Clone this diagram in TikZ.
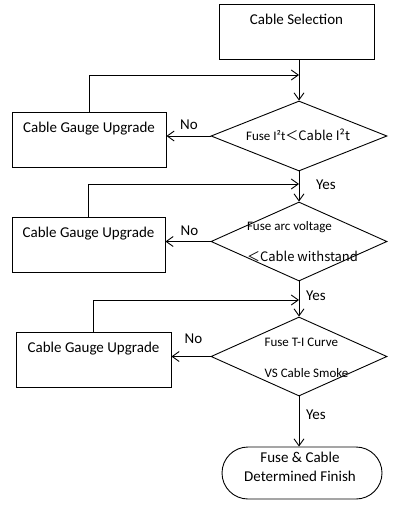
\documentclass[tikz,border=0pt]{standalone}
\usepackage{fontspec}
\setmainfont{Carlito}
\newfontfamily\cjk{Noto Sans CJK SC}
\usetikzlibrary{shapes.geometric, arrows.meta}

\begin{document}
\begin{tikzpicture}[x=1pt, y=-1pt, line width=0.9pt,
  box/.style={draw, rectangle, anchor=north, minimum width=155pt, inner ysep=0pt,
    text height=20pt, text depth=35pt, font=\fontsize{15}{18}\selectfont},
  choice/.style={draw, diamond, inner sep=0pt, minimum width=176pt},
  ending/.style={draw, rectangle, rounded corners=26pt, minimum width=160pt,
    minimum height=52pt, inner sep=0pt},
  say/.style={align=left, font=\fontsize{13}{31}\selectfont},
  tag/.style={font=\fontsize{15}{18}\selectfont},
  flow/.style={-{Straight Barb[length=7pt, width=10pt]}}]
  \useasboundingbox (0,0) rectangle (408,511);

  % 主干：选择 -> 三个判断 -> 结束
  \node[box] (sel) at (296.5,4) {Cable Selection};
  \node[choice, minimum height=70pt] (d1) at (299,136) {};
  \node[choice, minimum height=79pt] (d2) at (299,241.5) {};
  \node[choice, minimum height=79pt] (d3) at (299,356.5) {};
  \node[ending] (fin) at (302,473) {};

  % 判断框里的文字
  \node[say] (s1) at (298,135) {Fuse I²t\cjk{＜}Cable I²t};
  \node[say] (s2) at (302.5,241.5) {Fuse arc voltage\\\cjk{＜}Cable withstand};
  \node[say] (s3) at (306.5,357.5) {Fuse T-I Curve\\VS Cable Smoke};
  \node[align=center, font=\fontsize{15}{19}\selectfont] (sf) at (300,466.5)
    {Fuse \& Cable\\Determined Finish};

  % 左边的升级框
  \node[box, minimum width=154pt] (up1) at (89,112) {Cable Gauge Upgrade};
  \node[box, minimum width=153pt] (up2) at (88.5,217) {Cable Gauge Upgrade};
  \node[box] (up3) at (93.5,332) {Cable Gauge Upgrade};

  % 回到主干的汇合点
  \coordinate (j1) at (299,75);
  \coordinate (j2) at (299,184);
  \coordinate (j3) at (299,300);

  \draw[flow] (sel.south -| d1.north) -- (d1.north);
  \draw[flow] (d1.south) -- (d2.north);
  \draw[flow] (d2.south) -- (d3.north);
  \draw[flow] (d3.south) -- (d3.south |- fin.north);

  \draw[flow] (d1.west) -- (d1.west -| up1.east);
  \draw[flow] (d2.west) -- (d2.west -| up2.east);
  \draw[flow] (d3.west) -- (d3.west -| up3.east);

  \draw[flow] (up1.north) |- (j1);
  \draw[flow] (up2.north) |- (j2);
  \draw[flow] (up3.north) |- (j3);

  \node[tag] (no1) at (189,125) {No};
  \node[tag] (no2) at (189.5,231) {No};
  \node[tag] (no3) at (193.5,339) {No};
  \node[tag] (yes1) at (326,185) {Yes};
  \node[tag] (yes2) at (316,296) {Yes};
  \node[tag] (yes3) at (316,415) {Yes};
\end{tikzpicture}
\end{document}
